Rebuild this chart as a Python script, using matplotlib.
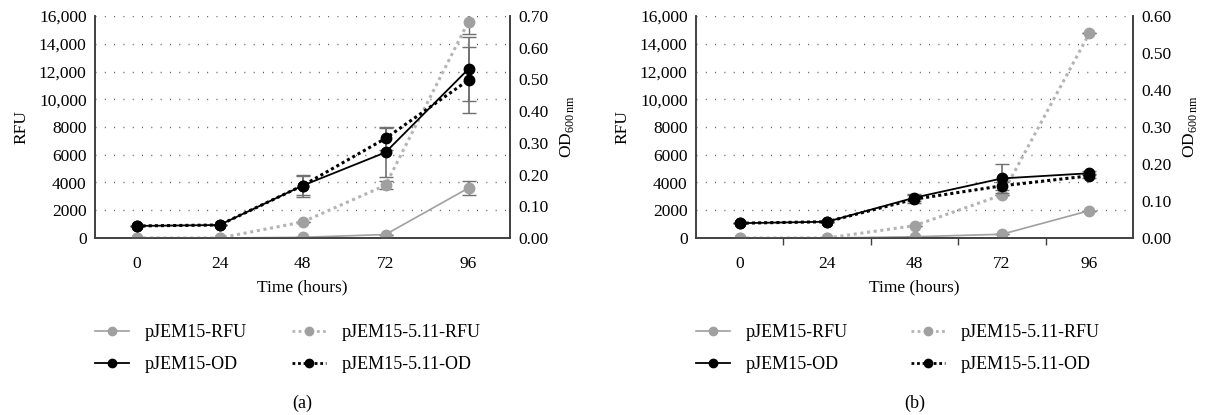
import matplotlib
matplotlib.use("Agg")
import matplotlib.pyplot as plt
from matplotlib.ticker import FuncFormatter, FixedLocator
from matplotlib.lines import Line2D

plt.rcParams['font.family'] = ['Liberation Serif', 'DejaVu Serif']
plt.rcParams['mathtext.fontset'] = 'custom'
plt.rcParams['mathtext.rm'] = 'Liberation Serif'

hours = ['0', '24', '48', '72', '96']

# Panel (a)
a_rfu = [0, 0, 50, 250, 3600]
a_rfu_err = [0, 0, 0, 0, 500]
a_rfu511 = [0, 0, 1150, 3800, 15600]
a_rfu511_err = [0, 0, 0, 300, 900]
a_od = [0.038, 0.041, 0.165, 0.270, 0.533]
a_od_err = [0, 0, 0.035, 0.077, 0.10]
a_od511 = [0.038, 0.041, 0.165, 0.314, 0.498]
a_od511_err = [0, 0, 0.03, 0.035, 0.105]

# Panel (b)
b_rfu = [0, 0, 90, 270, 1970]
b_rfu_err = [0, 0, 0, 0, 0]
b_rfu511 = [0, 0, 890, 3100, 14750]
b_rfu511_err = [0, 0, 0, 0, 0]
b_od = [0.040, 0.044, 0.109, 0.161, 0.175]
b_od_err = [0, 0, 0.01, 0.04, 0.005]
b_od511 = [0.040, 0.044, 0.105, 0.141, 0.168]
b_od511_err = [0, 0, 0.01, 0.01, 0.005]

rfu_ticks = [0, 2000, 4000, 6000, 8000, 10000, 12000, 14000, 16000]

GRAY = '#a0a0a0'
GRAY_DOT = '#b4b4b4'
SPINE = '#404040'
ERR = '#707070'
FS = 12.5
LFS = 13

W, H = 1210, 415
fig = plt.figure(figsize=(W / 100, H / 100), dpi=100)


def rfu_fmt(v, pos):
    v = int(round(v))
    return f"{v:,}" if v >= 10000 else f"{v}"


def panel(x0, x1, od_max, od_step, rfu, rfu_e, rfu511, rfu511_e, od, od_e, od511, od511_e,
          letter, boundary_ticks, colspace):
    top, bot = 16, 238
    ax = fig.add_axes([x0 / W, (H - bot) / H, (x1 - x0) / W, (bot - top) / H])
    ax2 = ax.twinx()
    x = list(range(len(hours)))
    ms = 7.5
    # RFU on left axis
    ax.errorbar(x, rfu, yerr=rfu_e, color=GRAY, lw=1.2, marker='o', ms=ms,
                ecolor=ERR, elinewidth=1, capsize=5, zorder=3)
    ax.errorbar(x, rfu511, yerr=rfu511_e, color=GRAY_DOT, lw=2.2, ls=(0, (1, 1.2)),
                marker='o', ms=ms, mfc=GRAY, mec=GRAY,
                ecolor=ERR, elinewidth=1, capsize=5, zorder=3)
    # OD on right axis
    ax2.errorbar(x, od, yerr=od_e, color='black', lw=1.3, marker='o', ms=ms,
                 ecolor=ERR, elinewidth=1.2, capsize=5, zorder=3)
    ax2.errorbar(x, od511, yerr=od511_e, color='black', lw=2.2, ls=(0, (1, 1)),
                 marker='o', ms=ms, ecolor=ERR, elinewidth=1.2, capsize=5, zorder=3)

    ax.set_xlim(-0.5, len(hours) - 0.5)
    ax.set_ylim(0, 16000)
    ax.set_yticks(rfu_ticks)
    ax.yaxis.set_major_formatter(FuncFormatter(rfu_fmt))
    ax.set_xticks(x)
    ax.set_xticklabels(hours)
    ax.tick_params(axis='x', length=0, pad=13, labelsize=FS)
    if boundary_ticks:
        ax.xaxis.set_minor_locator(FixedLocator([i + 0.5 for i in range(len(hours) - 1)]))
        ax.tick_params(axis='x', which='minor', length=5, width=1, color=SPINE, direction='out')
    ax.tick_params(axis='y', length=0, pad=6, labelsize=FS)
    for y in rfu_ticks[1:]:
        ax.axhline(y, color='#555555', lw=1, ls=(0, (0.7, 6.0)), zorder=1)

    n = int(round(od_max / od_step))
    od_ticks = [round(i * od_step, 2) for i in range(n + 1)]
    ax2.set_ylim(0, od_max)
    ax2.set_yticks(od_ticks)
    ax2.set_yticklabels([f"{t:.2f}" for t in od_ticks])
    ax2.tick_params(axis='y', length=0, pad=6, labelsize=FS)

    for a in (ax, ax2):
        a.spines['top'].set_visible(False)
        for s in ('left', 'right', 'bottom'):
            a.spines[s].set_color(SPINE)
            a.spines[s].set_linewidth(1.2)
    ax.set_ylabel('RFU', fontsize=FS, labelpad=7)
    ax2.set_ylabel(r'OD$_{\mathregular{600\,nm}}$', fontsize=FS, labelpad=7, rotation=90)
    ax.set_xlabel('Time (hours)', fontsize=FS, labelpad=5)

    handles = [
        Line2D([], [], color=GRAY, lw=1.2, marker='o', ms=6),
        Line2D([], [], color='black', lw=1.3, marker='o', ms=6),
        Line2D([], [], color=GRAY_DOT, lw=2, ls=(0, (1, 1.2)), marker='o', ms=6, mfc=GRAY, mec=GRAY),
        Line2D([], [], color='black', lw=2, ls=(0, (1, 1)), marker='o', ms=6),
    ]
    labels = ['pJEM15-RFU', 'pJEM15-OD', 'pJEM15-5.11-RFU', 'pJEM15-5.11-OD']
    fig.legend(handles, labels, ncol=2, frameon=False, fontsize=LFS,
               loc='upper left', bbox_to_anchor=((x0 + 0) / W, 1 - 324 / H),
               borderpad=0, borderaxespad=0, handlelength=1.9, handletextpad=0.85,
               columnspacing=colspace, labelspacing=0.85)
    fig.text((x0 + x1) / 2 / W, 1 - 403 / H, letter, ha='center', va='center', fontsize=LFS)


panel(95, 510, 0.70, 0.10, a_rfu, a_rfu_err, a_rfu511, a_rfu511_err,
      a_od, a_od_err, a_od511, a_od511_err, '(a)', False, 2.5)
panel(696, 1133, 0.60, 0.10, b_rfu, b_rfu_err, b_rfu511, b_rfu511_err,
      b_od, b_od_err, b_od511, b_od511_err, '(b)', True, 3.5)

fig.savefig('out.png', dpi=100)
